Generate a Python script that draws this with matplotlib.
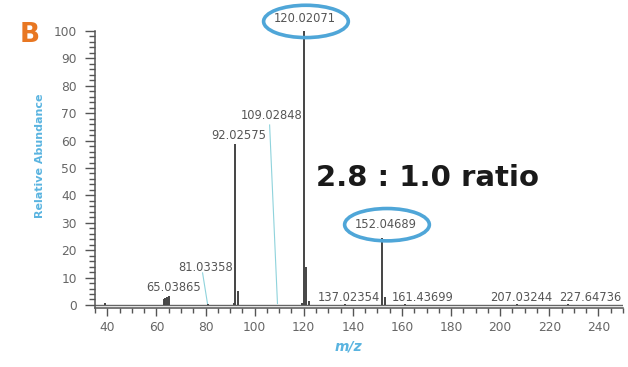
import matplotlib
matplotlib.use('Agg')
from matplotlib import pyplot as plt
from matplotlib.patches import Ellipse
from matplotlib.ticker import MultipleLocator

# peaks (m/z, relative abundance)
mz = [38.9, 63.0, 63.7, 64.3, 65.0, 81.0, 91.4, 92.03, 93.2,
      119.3, 120.02, 121.0, 122.0, 137.0, 152.05, 153.0, 161.4, 207.0, 227.6]
abundance = [0.8, 2.0, 2.6, 3.0, 3.4, 0.3, 0.6, 58.8, 5.2,
             0.6, 100.0, 13.8, 1.5, 0.3, 24.5, 3.0, 0.2, 0.2, 0.2]

# annotation labels: text, x, y (label centre, data coords)
labels = ['120.02071', '152.04689', '109.02848', '92.02575', '81.03358',
          '65.03865', '137.02354', '161.43699', '207.03244', '227.64736']
label_x = [120.3, 153.3, 106.9, 93.4, 80.0, 67.0, 138.2, 168.3, 208.6, 236.7]
label_y = [104.7, 29.3, 69.0, 61.8, 13.5, 6.2, 2.9, 2.9, 2.9, 2.9]

# leader lines (x0, y0, x1, y1)
leaders = [(106.1, 65.7, 109.3, 0.5), (78.8, 11.7, 80.8, 0.5)]

grey = '#555555'
blue = '#4fa6d8'

plt.rcParams['font.family'] = ['DejaVu Sans']

fig = plt.figure(figsize=(6.28, 3.67), dpi=100)
ax = fig.add_axes([0.1513, 0.1616, 0.8407, 0.7539])

ax.set_xlim(35, 250)
ax.set_ylim(-1, 100)

ax.axhline(0, color='#666666', lw=1.0, zorder=2)
ax.vlines(mz, 0, abundance, color='#444444', lw=1.4, zorder=3)

for x0, y0, x1, y1 in leaders:
    ax.plot([x0, x1], [y0, y1], color='#8fd3dc', lw=0.8, zorder=1)

for t, x, y in zip(labels, label_x, label_y):
    ax.text(x, y, t, ha='center', va='center', fontsize=8.3, color=grey,
            clip_on=False, zorder=4)

# highlight circles
for (cx, cy) in [(120.9, 103.5), (153.9, 29.3)]:
    e = Ellipse((cx, cy), 34.5, 11.8, fill=False, ec=blue, lw=2.6,
                clip_on=False, zorder=5)
    ax.add_patch(e)

for s in ['top', 'right']:
    ax.spines[s].set_visible(False)
for s in ['left', 'bottom']:
    ax.spines[s].set_color(grey)
    ax.spines[s].set_linewidth(1.1)

ax.xaxis.set_major_locator(MultipleLocator(20))
ax.xaxis.set_minor_locator(MultipleLocator(5))
ax.yaxis.set_major_locator(MultipleLocator(10))
ax.yaxis.set_minor_locator(MultipleLocator(2))
ax.set_xticks(range(40, 241, 20))
ax.tick_params(axis='both', which='major', color=grey, width=1.0,
               labelcolor='#666666', labelsize=8.8)
ax.tick_params(axis='x', which='major', length=5.5, pad=4)
ax.tick_params(axis='x', which='minor', length=3.3, color=grey, width=1.0)
ax.tick_params(axis='y', which='major', length=7, pad=6)
ax.tick_params(axis='y', which='minor', length=4, color=grey, width=1.0)

ax.set_ylabel('Relative Abundance', color='#5ab4e0', fontsize=8,
              fontweight='bold')
ax.set_xlabel('m/z', color='#5ab4e0', fontsize=10, fontweight='bold',
              style='italic')
ax.yaxis.set_label_coords(-0.095, 0.55)
ax.xaxis.set_label_coords(0.480, -0.115)

fig.text(0.048, 0.905, 'B', color='#e87722', fontsize=19, fontweight='bold',
         ha='center', va='center')
fig.text(0.6815, 0.515, '2.8 : 1.0 ratio', color='#1a1a1a', fontsize=21,
         fontweight='bold', ha='center', va='center')

fig.savefig('out.png', dpi=100)
